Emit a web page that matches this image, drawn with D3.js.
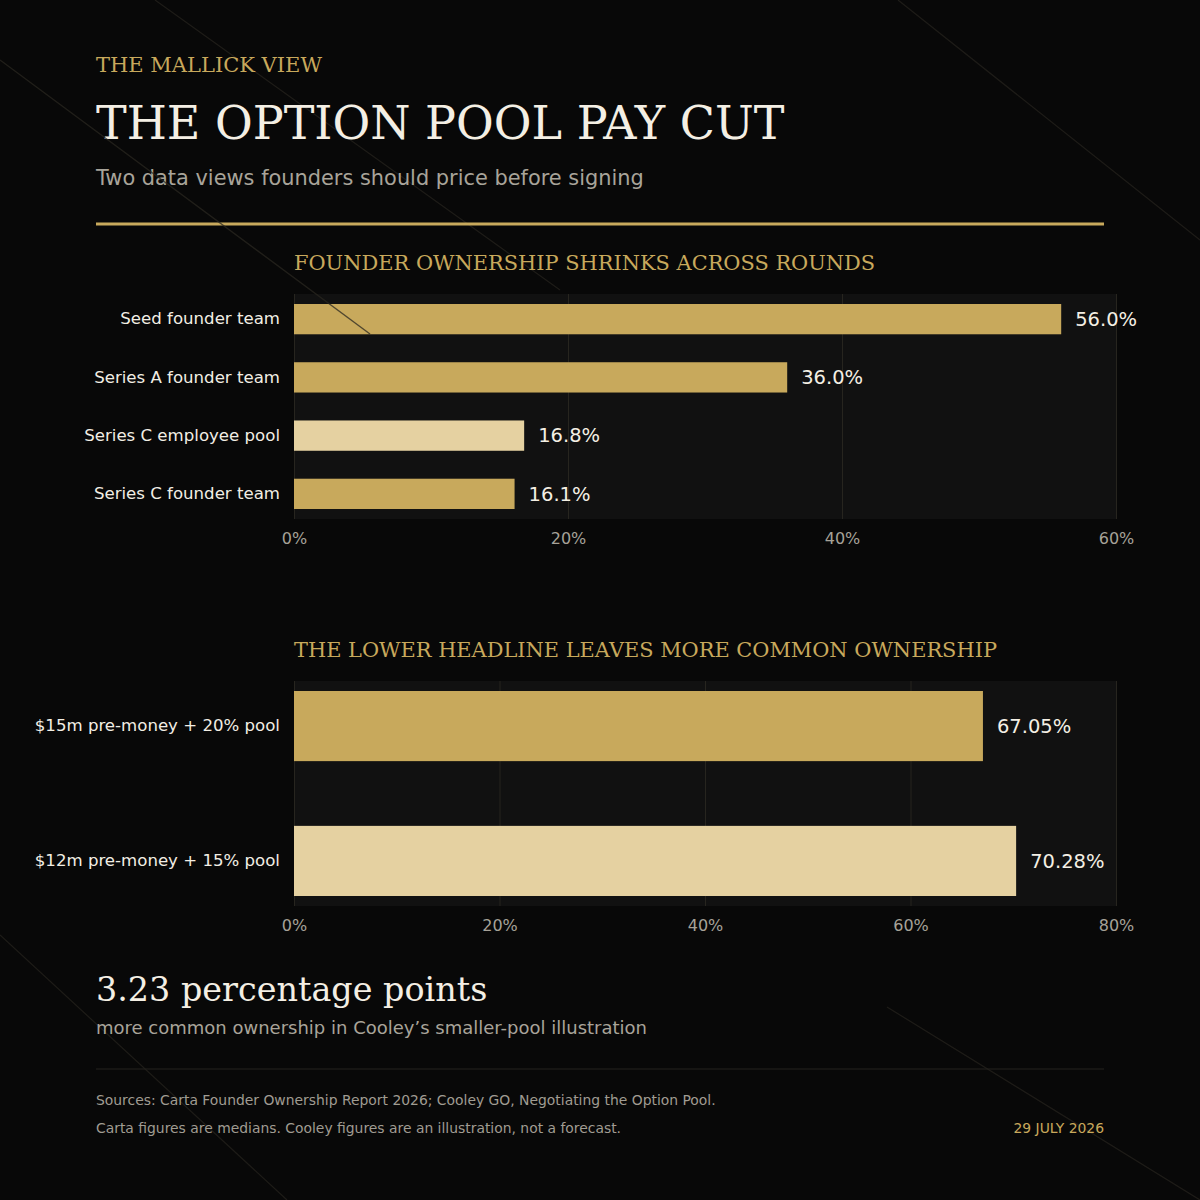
<html>
<head>
<meta charset="utf-8">
<script src="https://cdn.jsdelivr.net/npm/d3@7"></script>
<style>
  body { margin: 0; background: #080808; }
  svg { display: block; }
</style>
</head>
<body>
<script>
// chart 1: Carta medians
const roundLabels = ['Seed founder team', 'Series A founder team', 'Series C employee pool', 'Series C founder team'];
const roundValues = [56.0, 36.0, 16.8, 16.1];
const roundKinds = ['founder', 'founder', 'pool', 'founder'];
const roundTicks = [0, 20, 40, 60];

// chart 2: Cooley illustration
const poolLabels = ['$15m pre-money + 20% pool', '$12m pre-money + 15% pool'];
const poolValues = [67.05, 70.28];
const poolKinds = ['founder', 'pool'];
const poolTicks = [0, 20, 40, 60, 80];

const gold = '#c8a95c';
const paleGold = '#e5d1a1';
const serif = '"DejaVu Serif", Georgia, serif';
const sans = '"DejaVu Sans", Arial, sans-serif';

const svg = d3.select('body').append('svg')
    .attr('width', 1200).attr('height', 1200);

svg.append('rect').attr('width', 1200).attr('height', 1200).attr('fill', '#080808');

// faint diagonal strokes in the background
const deco = [[155, 0, 560, 290], [898, 0, 1200, 240], [0, 935, 287, 1200], [887, 1007, 1200, 1200]];
svg.append('g').selectAll('line').data(deco).enter().append('line')
    .attr('x1', d => d[0]).attr('y1', d => d[1])
    .attr('x2', d => d[2]).attr('y2', d => d[3])
    .attr('stroke', '#1e1c18').attr('stroke-width', 1.2);

// header
svg.append('text').attr('x', 96).attr('y', 72)
    .attr('font-family', serif).attr('font-size', 21).attr('fill', gold)
    .text('THE MALLICK VIEW');
svg.append('text').attr('x', 96).attr('y', 139)
    .attr('font-family', serif).attr('font-size', 46).attr('fill', '#f4efe4')
    .text('THE OPTION POOL PAY CUT');
svg.append('text').attr('x', 96).attr('y', 185)
    .attr('font-family', sans).attr('font-size', 20.9).attr('fill', '#a8a49a')
    .text('Two data views founders should price before signing');
svg.append('rect').attr('x', 96).attr('y', 222.5).attr('width', 1008).attr('height', 3)
    .attr('fill', gold);

function barChart(opts) {
  const left = 294, right = 1116;
  const top = opts.top, bottom = opts.top + 225;

  const x = d3.scaleLinear().domain([0, opts.max]).range([left, right]);
  const y = d3.scaleBand().domain(opts.labels)
      .range([top + 10, bottom - 10]).paddingInner(0.48).paddingOuter(0);

  svg.append('text').attr('x', left).attr('y', top - 24)
      .attr('font-family', serif).attr('font-size', 20.9).attr('fill', gold)
      .text(opts.title);

  const g = svg.append('g');
  g.append('rect').attr('x', left).attr('y', top)
      .attr('width', right - left).attr('height', bottom - top)
      .attr('fill', '#111111');

  // gridlines
  g.append('g')
      .attr('transform', 'translate(0,' + top + ')')
      .call(d3.axisBottom(x).tickValues(opts.ticks).tickSize(bottom - top).tickFormat(''))
      .call(a => a.select('.domain').remove())
      .call(a => a.selectAll('line').attr('stroke', '#27251f').attr('stroke-width', 1));

  // tick labels
  g.append('g')
      .attr('transform', 'translate(0,' + bottom + ')')
      .call(d3.axisBottom(x).tickValues(opts.ticks).tickSize(0).tickPadding(14)
          .tickFormat(d => d + '%'))
      .call(a => a.select('.domain').remove())
      .call(a => a.selectAll('text')
          .attr('font-family', sans).attr('font-size', 16).attr('fill', '#a6a298'));

  // category labels
  g.append('g')
      .attr('transform', 'translate(' + (left - 14) + ',0)')
      .call(d3.axisLeft(y).tickSize(0).tickPadding(0))
      .call(a => a.select('.domain').remove())
      .call(a => a.selectAll('text')
          .attr('font-family', sans).attr('font-size', 16.6).attr('fill', '#f2eee4'));

  const rows = opts.labels.map((l, i) => ({label: l, value: opts.values[i], kind: opts.kinds[i]}));

  g.selectAll('.bar').data(rows).enter().append('rect')
      .attr('class', 'bar')
      .attr('x', x(0))
      .attr('y', d => y(d.label))
      .attr('width', d => x(d.value) - x(0))
      .attr('height', y.bandwidth())
      .attr('fill', d => d.kind === 'pool' ? paleGold : gold);

  g.selectAll('.val').data(rows).enter().append('text')
      .attr('class', 'val')
      .attr('x', d => x(d.value) + 14)
      .attr('y', d => y(d.label) + y.bandwidth() / 2)
      .attr('dy', '0.35em')
      .attr('font-family', sans).attr('font-size', 19.5).attr('fill', '#f4efe4')
      .text(d => d.value.toFixed(opts.digits) + '%');
}

barChart({
  title: 'FOUNDER OWNERSHIP SHRINKS ACROSS ROUNDS',
  top: 294, max: 60, ticks: roundTicks, digits: 1,
  labels: roundLabels, values: roundValues, kinds: roundKinds
});

// the one stroke that runs over the first chart
svg.append('line')
    .attr('x1', 0).attr('y1', 60).attr('x2', 370).attr('y2', 334)
    .attr('stroke', '#2a2720').attr('stroke-opacity', 0.75).attr('stroke-width', 1.4);

barChart({
  title: 'THE LOWER HEADLINE LEAVES MORE COMMON OWNERSHIP',
  top: 681, max: 80, ticks: poolTicks, digits: 2,
  labels: poolLabels, values: poolValues, kinds: poolKinds
});

// takeaway
const gap = d3.format('.2f')(poolValues[1] - poolValues[0]);
svg.append('text').attr('x', 96).attr('y', 1001)
    .attr('font-family', serif).attr('font-size', 33.4).attr('fill', '#f4efe4')
    .text(gap + ' percentage points');
svg.append('text').attr('x', 96).attr('y', 1034)
    .attr('font-family', sans).attr('font-size', 18).attr('fill', '#a8a49a')
    .text('more common ownership in Cooley\u2019s smaller-pool illustration');

svg.append('rect').attr('x', 96).attr('y', 1068.5).attr('width', 1008).attr('height', 1)
    .attr('fill', '#25231e');

svg.append('text').attr('x', 96).attr('y', 1105)
    .attr('font-family', sans).attr('font-size', 13.9).attr('fill', '#a09c92')
    .text('Sources: Carta Founder Ownership Report 2026; Cooley GO, Negotiating the Option Pool.');
svg.append('text').attr('x', 96).attr('y', 1133)
    .attr('font-family', sans).attr('font-size', 13.9).attr('fill', '#a09c92')
    .text('Carta figures are medians. Cooley figures are an illustration, not a forecast.');
svg.append('text').attr('x', 1104).attr('y', 1133).attr('text-anchor', 'end')
    .attr('font-family', sans).attr('font-size', 13.9).attr('fill', gold)
    .text('29 JULY 2026');
</script>
</body>
</html>
